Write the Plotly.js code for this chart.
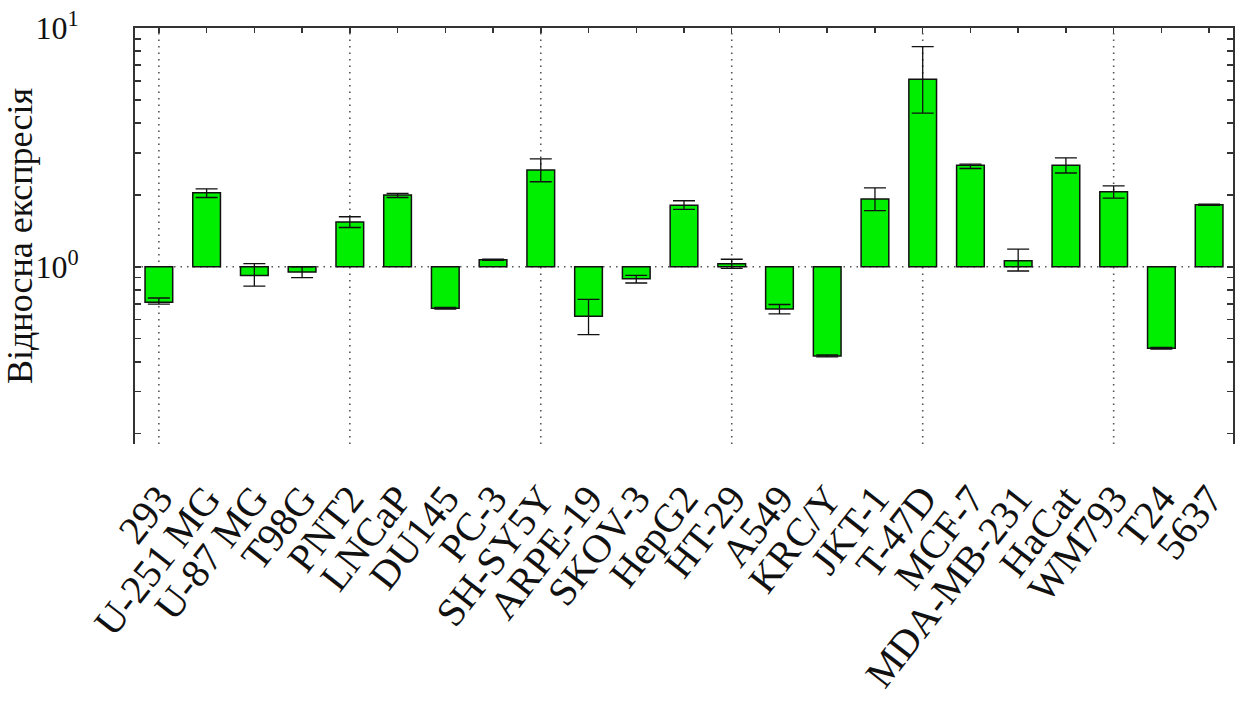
<!DOCTYPE html>
<html>
<head>
<meta charset="utf-8">
<script src="https://cdn.plot.ly/plotly-3.0.1.min.js"></script>
<style>html,body{margin:0;padding:0;background:#fff;}#chart{width:1245px;height:715px;}</style>
</head>
<body>
<div id="chart"></div>
<script>
const categories = ["293","U-251 MG","U-87 MG","T98G","PNT2","LNCaP","DU145","PC-3","SH-SY5Y","ARPE-19","SKOV-3","HepG2","HT-29","A549","KRC/Y","JKT-1","T-47D","MCF-7","MDA-MB-231","HaCat","WM793","T24","5637"];
const values   = [0.71, 2.04, 0.92, 0.95, 1.54, 2.00, 0.67, 1.07, 2.54, 0.62, 0.89, 1.81, 1.03, 0.665, 0.423, 1.92, 6.10, 2.66, 1.06, 2.66, 2.06, 0.456, 1.82];
const errPlus  = [0.03, 0.08, 0.11, 0.05, 0.08, 0.03, 0.005, 0.005, 0.29, 0.11, 0.03, 0.08, 0.045, 0.03, 0.004, 0.22, 2.25, 0.03, 0.125, 0.20, 0.12, 0.004, 0.01];
const errMinus = [0.012, 0.09, 0.09, 0.05, 0.08, 0.05, 0.005, 0.005, 0.27, 0.10, 0.035, 0.07, 0.045, 0.03, 0.004, 0.20, 1.70, 0.08, 0.10, 0.19, 0.12, 0.004, 0.01];
const baseline = 1;
const gridCats = [0, 4, 8, 12, 16, 20];
const yTickVals = [0.2,0.3,0.4,0.5,0.6,0.7,0.8,0.9,1,2,3,4,5,6,7,8,9,10];
const yTickText = yTickVals.map(v => v === 1 ? "10<sup>0</sup>" : (v === 10 ? "10<sup>1</sup>" : ""));

const idx = categories.map((c, i) => i);
const SERIF = "Liberation Serif";

const bars = {
  type: 'bar',
  x: idx,
  y: values.map(v => v - baseline),
  base: values.map(() => baseline),
  width: 0.58,
  marker: {color: '#00ee00', line: {color: '#111', width: 1.5}},
  hoverinfo: 'skip',
  showlegend: false
};
const errs = {
  type: 'scatter',
  mode: 'markers',
  x: idx,
  y: values,
  marker: {size: 1, opacity: 0},
  error_y: {type: 'data', symmetric: false, array: errPlus, arrayminus: errMinus, color: '#111', thickness: 1.3, width: 11},
  showlegend: false
};
const topAxisHelper = {type: 'scatter', mode: 'markers', x: [0], y: [1], xaxis: 'x2', marker: {opacity: 0}, hoverinfo: 'skip', showlegend: false};

const dotLine = {color: '#555', width: 1.6, dash: '1.5px,5px'};
const shapes = gridCats.map(c => ({
  type: 'line', xref: 'x', yref: 'paper', x0: c, x1: c, y0: 0, y1: 1,
  line: dotLine, layer: 'below'
}));
shapes.push({type: 'line', xref: 'paper', yref: 'y', x0: 0, x1: 1, y0: baseline, y1: baseline,
  line: dotLine, layer: 'below'});

const layout = {
  width: 1245, height: 715,
  margin: {l: 135, r: 12, t: 28, b: 271},
  paper_bgcolor: '#ffffff',
  plot_bgcolor: '#ffffff',
  font: {family: SERIF, color: '#111'},
  xaxis: {
    range: [-0.5, categories.length - 0.5],
    tickvals: idx, ticktext: categories,
    tickangle: -52,
    tickfont: {size: 40, family: SERIF, color: '#111'},
    ticks: '', showline: false, showgrid: false, zeroline: false,
    ticklabelstandoff: 22,
    ticklabelshift: 0
  },
  xaxis2: {
    overlaying: 'x', side: 'top', matches: 'x',
    range: [-0.5, categories.length - 0.5],
    tickvals: idx, showticklabels: false,
    ticks: 'inside', ticklen: 5, tickcolor: '#333', tickwidth: 1.5,
    showline: true, linecolor: '#333', linewidth: 2, showgrid: false, zeroline: false
  },
  yaxis: {
    type: 'log',
    range: [Math.log10(0.181), 1],
    tickvals: yTickVals, ticktext: yTickText,
    ticks: 'inside', ticklen: 6, tickcolor: '#333', tickwidth: 1.5,
    showline: true, linecolor: '#333', linewidth: 2, mirror: 'ticks',
    showgrid: false, zeroline: false,
    tickfont: {size: 32, family: SERIF, color: '#111'},
    ticklabelstandoff: 48,
    title: {text: 'Відносна експресія', font: {size: 36, family: SERIF, color: '#111'}, standoff: 0}
  },
  shapes: shapes,
  showlegend: false
};

Plotly.newPlot('chart', [bars, errs, topAxisHelper], layout, {displayModeBar: false, staticPlot: true});
</script>
</body>
</html>
